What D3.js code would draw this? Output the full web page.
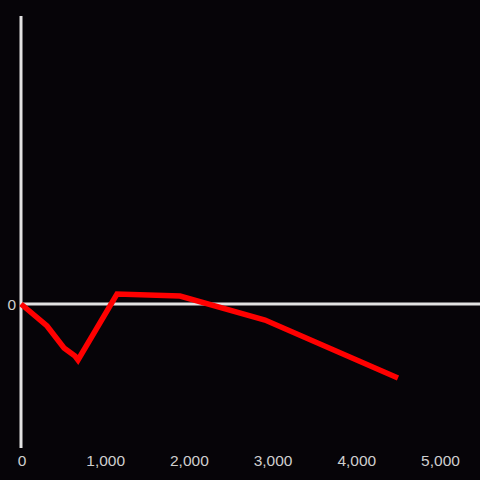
<!DOCTYPE html>
<html>
<head>
<meta charset="utf-8">
<script src="https://cdn.jsdelivr.net/npm/d3@7"></script>
<style>
  html, body { margin: 0; padding: 0; background: #060408; }
  svg { display: block; }
</style>
</head>
<body>
<svg id="mainsvg" width="480" height="480"></svg>
<script>
// data
var xValues = [0, 311, 514, 645, 681, 1147, 1900, 2915, 4504];
var yValues = [0, -2.2, -4.4, -5.2, -5.6, 1.0, 0.8, -1.6, -7.4];
var xTicks = [0, 1000, 2000, 3000, 4000, 5000];
var yTicks = [0];

var w = 480,
  h = 480;
var svg = d3.select("#mainsvg");

var x = d3.scaleLinear().domain([0, 5484]).range([21, 480]);
var y = d3.scaleLinear().domain([-14.4, 28.8]).range([448, 16]);

var points = xValues.map(function (d, i) {
  return { x: d, y: yValues[i] };
});

// y axis line
svg
  .append("line")
  .attr("x1", x(0))
  .attr("x2", x(0))
  .attr("y1", y.range()[1])
  .attr("y2", y.range()[0])
  .attr("stroke", "#e2e2e2")
  .attr("stroke-width", 3);

// x axis line at zero
svg
  .append("line")
  .attr("x1", x(0))
  .attr("x2", w)
  .attr("y1", y(0))
  .attr("y2", y(0))
  .attr("stroke", "#e2e2e2")
  .attr("stroke-width", 3);

var fmt = d3.format(",");

svg
  .append("g")
  .attr("class", "x-labels")
  .selectAll("text")
  .data(xTicks)
  .enter()
  .append("text")
  .attr("x", function (d) {
    return x(d) + 1;
  })
  .attr("y", 466)
  .attr("text-anchor", "middle")
  .attr("font-family", "'Liberation Sans', Arial, sans-serif")
  .attr("font-size", 15.5)
  .attr("fill", "#cfcfcf")
  .text(function (d) {
    return fmt(d);
  });

svg
  .append("g")
  .attr("class", "y-labels")
  .selectAll("text")
  .data(yTicks)
  .enter()
  .append("text")
  .attr("x", 16)
  .attr("y", function (d) {
    return y(d) + 5.5;
  })
  .attr("text-anchor", "end")
  .attr("font-family", "'Liberation Sans', Arial, sans-serif")
  .attr("font-size", 15.5)
  .attr("fill", "#cfcfcf")
  .text(function (d) {
    return fmt(d);
  });

var line = d3
  .line()
  .x(function (d) {
    return x(d.x);
  })
  .y(function (d) {
    return y(d.y);
  });

svg
  .append("path")
  .datum(points)
  .attr("d", line)
  .attr("fill", "none")
  .attr("stroke", "#ff0000")
  .attr("stroke-width", 5.5);
</script>
</body>
</html>
